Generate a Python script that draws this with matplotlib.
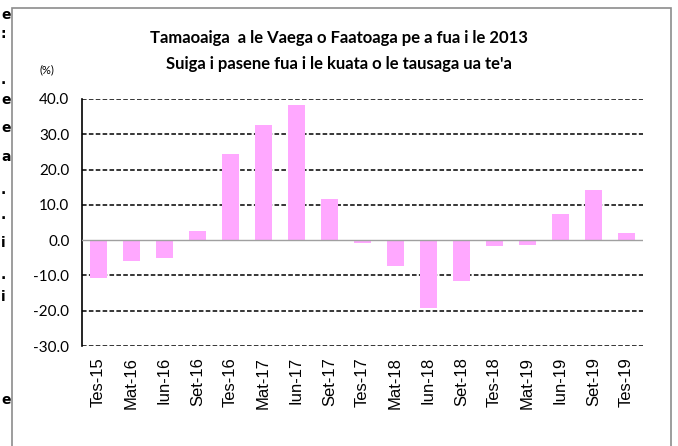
import numpy as np
import matplotlib
matplotlib.use("Agg")
from matplotlib import pyplot as plt
from matplotlib.patches import Rectangle

# quarters and growth (%)
quarters = ['Tes-15', 'Mat-16', 'Iun-16', 'Set-16', 'Tes-16', 'Mat-17', 'Iun-17', 'Set-17',
            'Tes-17', 'Mat-18', 'Iun-18', 'Set-18', 'Tes-18', 'Mat-19', 'Iun-19', 'Set-19', 'Tes-19']
growth = [-10.8, -5.9, -5.0, 2.6, 24.4, 32.5, 38.2, 11.6,
          -0.9, -7.4, -19.2, -11.6, -1.8, -1.3, 7.4, 14.2, 1.9]
yticks = [40, 30, 20, 10, 0, -10, -20, -30]

# letters of the page text visible at the left edge
edge_chars = ['e', ':', '.', 'e', 'e', 'a', '.', '.', 'i', '.', 'i', 'e']
edge_y = [15, 34, 80, 100, 128, 157, 190, 215, 243, 275, 297, 400]

fig = plt.figure(figsize=(6.78, 4.46), dpi=100)
ax = fig.add_axes([82 / 678, 1 - 346 / 446, (643 - 82) / 678, (346 - 99) / 446])

x = np.arange(len(quarters))
ax.bar(x, growth, width=0.5, color='#ffa8ff', zorder=3)

ax.set_xlim(-0.5, len(quarters) - 0.5)
ax.set_ylim(-30, 40)
for v in yticks:
    if v == 0:
        ax.axhline(v, color='#a0a0a0', lw=1.0, zorder=4)
    else:
        ax.axhline(v, color='black', lw=1.1, ls=(0, (3, 1.5)), zorder=1)

ax.set_yticks(yticks)
ax.set_yticklabels(['%.1f' % v for v in yticks], family='Lato', fontsize=11)
ax.set_xticks(x)
ax.set_xticklabels(quarters, rotation=90, family='Liberation Sans', fontsize=12)
ax.tick_params(length=0)
ax.tick_params(axis='y', pad=9)
ax.tick_params(axis='x', pad=8)

for s in ['top', 'right', 'bottom']:
    ax.spines[s].set_visible(False)
ax.spines['left'].set_linestyle((0, (1, 1)))
ax.spines['left'].set_linewidth(1.2)

fig.text(0.5, 1 - 38 / 446, 'Tamaoaiga  a le Vaega o Faatoaga pe a fua i le 2013',
         ha='center', va='center', family='Lato', fontweight='bold', fontsize=12)
fig.text(0.5, 1 - 64 / 446, "Suiga i pasene fua i le kuata o le tausaga ua te'a",
         ha='center', va='center', family='Lato', fontweight='bold', fontsize=12)
fig.text(47 / 678, 1 - 70 / 446, '(%)', ha='center', va='center', family='Lato', fontsize=8)

for ch, yy in zip(edge_chars, edge_y):
    fig.text(1 / 678, 1 - yy / 446, ch, ha='left', va='center', family='DejaVu Sans',
             fontweight='bold', fontsize=10)

fig.patches.append(Rectangle((12 / 678, -0.05), (671 - 12) / 678, 1 - 8 / 446 + 0.05,
                             transform=fig.transFigure, fill=False, ec='#8c8c8c', lw=1.2))

fig.savefig('out.png', dpi=100)
